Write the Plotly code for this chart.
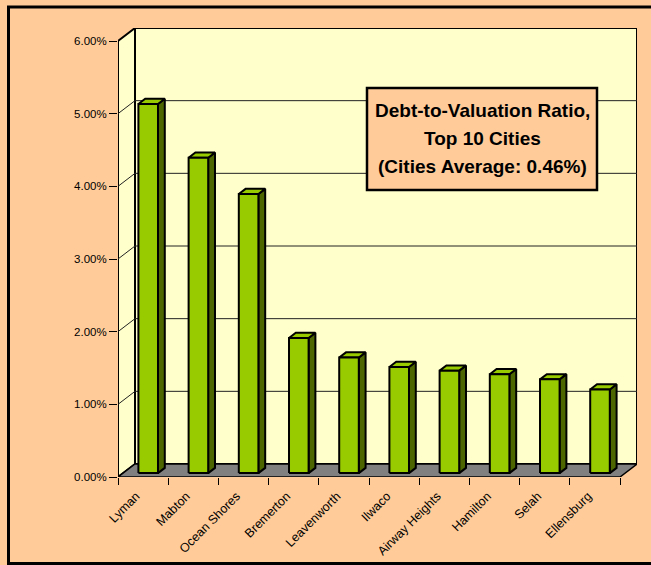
import plotly.graph_objects as go

# ---- data ----
cities = ["Lyman", "Mabton", "Ocean Shores", "Bremerton", "Leavenworth",
          "Ilwaco", "Airway Heights", "Hamilton", "Selah", "Ellensburg"]
ratios = [5.08, 4.34, 3.84, 1.86, 1.59, 1.46, 1.41, 1.36, 1.29, 1.15]  # percent
y_ticks = [0, 1, 2, 3, 4, 5, 6]
y_ticklabels = ["0.00%", "1.00%", "2.00%", "3.00%", "4.00%", "5.00%", "6.00%"]
title_lines = ["Debt-to-Valuation Ratio,", "Top 10 Cities", "(Cities Average: 0.46%)"]

# ---- style / geometry ----
BG = "#FFCC99"
WALL = "#FFFFCC"
FLOOR = "#808080"
FRONT = "#99CC00"
SIDE = "#4D6600"
TOP = "#99CC00"
FONT = "Liberation Sans, Arial, sans-serif"

n = len(cities)
DX = 17 / 50.2      # depth offset in x units
DY = 13 / 72.67     # depth offset in y units
f0, f1 = 0.3, 0.7   # bar depth fractions
w = 0.39            # bar width

fig = go.Figure()

def poly(xs, ys, fill, lw=2, lc="black"):
    fig.add_trace(go.Scatter(x=xs, y=ys, mode="lines", fill="toself", fillcolor=fill,
                             line=dict(color=lc, width=lw), hoverinfo="skip",
                             showlegend=False))

xl, xr = -0.5, n - 0.5
ytop = y_ticks[-1]
# back wall
poly([xl + DX, xr + DX, xr + DX, xl + DX, xl + DX],
     [DY, DY, ytop + DY, ytop + DY, DY], WALL)
# left wall
poly([xl, xl, xl + DX, xl + DX, xl], [0, ytop, ytop + DY, DY, 0], WALL)

# gridlines (back wall + left wall)
gx, gy = [], []
for t in y_ticks[1:-1]:
    gx += [xl, xl + DX, xr + DX, None]
    gy += [t, t + DY, t + DY, None]
fig.add_trace(go.Scatter(x=gx, y=gy, mode="lines", line=dict(color="#222222", width=1),
                         hoverinfo="skip", showlegend=False))

# floor
poly([xl, xr, xr + DX, xl + DX, xl], [0, 0, DY, DY, 0], FLOOR, lw=1.5)

# bars
sx, sy, tx, ty, fx, fy = [], [], [], [], [], []
for i, v in enumerate(ratios):
    L = i - w / 2
    R = i + w / 2
    # side
    sx += [R + f0 * DX, R + f1 * DX, R + f1 * DX, R + f0 * DX, R + f0 * DX, None]
    sy += [f0 * DY, f1 * DY, v + f1 * DY, v + f0 * DY, f0 * DY, None]
    # top
    tx += [L + f0 * DX, R + f0 * DX, R + f1 * DX, L + f1 * DX, L + f0 * DX, None]
    ty += [v + f0 * DY, v + f0 * DY, v + f1 * DY, v + f1 * DY, v + f0 * DY, None]
    # front
    fx += [L + f0 * DX, R + f0 * DX, R + f0 * DX, L + f0 * DX, L + f0 * DX, None]
    fy += [f0 * DY, f0 * DY, v + f0 * DY, v + f0 * DY, f0 * DY, None]
poly(sx, sy, SIDE)
poly(tx, ty, TOP)
poly(fx, fy, FRONT)

# title box
ux, uy = 50.2, 72.67
def px2x(p):
    return xl + (p - 118) / ux
def px2y(p):
    return (477 - p) / uy

fig.add_shape(type="rect", xref="x", yref="y", x0=px2x(367), x1=px2x(597),
              y0=px2y(190), y1=px2y(88), fillcolor=BG,
              line=dict(color="black", width=2.5), layer="above")
for k, (line, py) in enumerate(zip(title_lines, [110, 138, 166])):
    fig.add_annotation(x=px2x(482.5), y=px2y(py), xref="x", yref="y", text="<b>%s</b>" % line,
                       showarrow=False, xanchor="center", yanchor="middle",
                       font=dict(family=FONT, size=19, color="black"))

# outer frame
def ppx(p):
    return (p - 118) / 519
def ppy(p):
    return (477 - p) / 449
fig.add_shape(type="rect", xref="paper", yref="paper", x0=ppx(8.5), x1=ppx(680),
              y0=ppy(563.5), y1=ppy(7), line=dict(color="black", width=3),
              fillcolor="rgba(0,0,0,0)", layer="above")

fig.update_layout(
    width=651, height=565, autosize=False,
    margin=dict(l=118, r=14, t=28, b=88, autoexpand=False),
    paper_bgcolor=BG, plot_bgcolor=BG,
    showlegend=False,
    xaxis=dict(range=[xl, xr + DX], showgrid=False, zeroline=False, showline=False,
               automargin=False,
               tickmode="array", tickvals=list(range(n)), ticktext=cities,
               tickangle=-45, ticks="outside", ticklen=6, tickcolor="rgba(0,0,0,0)",
               ticklabelshift=-7,
               tickfont=dict(family=FONT, size=12.5, color="black"),
               minor=dict(tickmode="array", tickvals=[i - 0.5 for i in range(n + 1)],
                          ticks="outside", ticklen=7, tickcolor="black", tickwidth=1,
                          showgrid=False),
               fixedrange=True),
    yaxis=dict(range=[0, ytop + DY], showgrid=False, zeroline=False, showline=False,
               automargin=False,
               tickmode="array", tickvals=y_ticks, ticktext=y_ticklabels,
               ticks="outside", ticklen=8, tickcolor="black", tickwidth=1,
               tickfont=dict(family=FONT, size=11.5, color="black"),
               fixedrange=True),
)

fig.write_html("out.html",
               config={"displayModeBar": False, "responsive": False},
               post_script="document.body.style.margin='0';"
                           "document.body.style.overflow='hidden';"
                           "document.body.style.background='%s';" % BG)
